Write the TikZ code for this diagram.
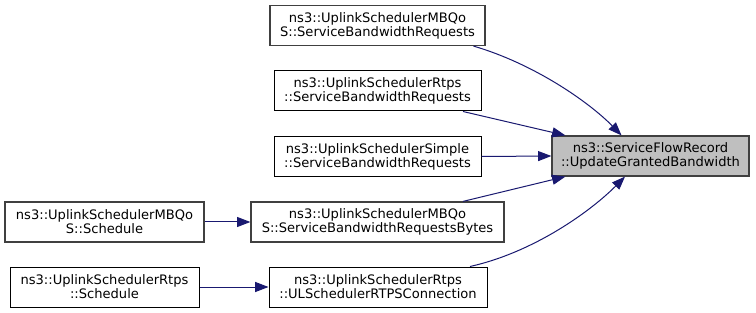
\documentclass[tikz,border=0pt]{standalone}
\usepackage{fontspec}
\setmainfont{DejaVu Sans}
\usetikzlibrary{arrows.meta,calc}
\definecolor{edgeblue}{HTML}{191970}
\definecolor{boxgrey}{HTML}{404040}
\definecolor{hilite}{HTML}{BFBFBF}
\tikzset{
  fn/.style={draw=black, fill=white, line width=0.75pt, inner sep=0pt, align=center,
    font=\fontsize{9.8}{10.6}\selectfont, minimum height=30pt},
  fngrey/.style={fn, draw=boxgrey, line width=0.9pt},
  focus/.style={fn, draw=boxgrey, line width=0.9pt, fill=hilite},
  call/.style={draw=edgeblue, line width=0.75pt, -{Triangle[length=10pt,width=7.5pt]}}
}
\begin{document}
\begin{tikzpicture}[x=0.75pt,y=-0.75pt]
\useasboundingbox (0,0) rectangle (756,313);
\fill[white] (0,0) rectangle (756,313);

\node[fngrey, minimum width=161.25pt] (sbrm) at (377.5,25.5) {ns3::UplinkSchedulerMBQo\\S::ServiceBandwidthRequests};
\node[fn, minimum width=155.25pt] (sbrr) at (377.5,91) {ns3::UplinkSchedulerRtps\\::ServiceBandwidthRequests};
\node[fn, minimum width=155.25pt] (sbrs) at (377.5,156.5) {ns3::UplinkSchedulerSimple\\::ServiceBandwidthRequests};
\node[focus, minimum width=147.75pt] (ugb) at (650.5,156) {ns3::ServiceFlowRecord\\::UpdateGrantedBandwidth};
\node[fngrey, minimum width=189.75pt] (sbrb) at (377.5,222) {ns3::UplinkSchedulerMBQo\\S::ServiceBandwidthRequestsBytes};
\node[fn, minimum width=163.5pt] (ulrt) at (378,287) {ns3::UplinkSchedulerRtps\\::ULSchedulerRTPSConnection};
\node[fngrey, minimum width=149.25pt] (schm) at (104.5,222) {ns3::UplinkSchedulerMBQo\\S::Schedule};
\node[fn, minimum width=141.75pt] (schr) at (104.5,287) {ns3::UplinkSchedulerRtps\\::Schedule};

\draw[call] ($(sbrm.south)+(96,0)$) .. controls (535,64) and (590,103) .. ($(ugb.north)+(-29,0)$);
\draw[call] ($(sbrr.south)+(85.5,0)$) -- ($(ugb.north west)+(14,0)$);
\draw[call] (sbrs.east) -- (ugb.west);
\draw[call] ($(sbrb.north)+(85.5,0)$) -- ($(ugb.south west)+(14,0)$);
\draw[call] ($(ulrt.north)+(92,0)$) .. controls (535,252) and (592,210) .. ($(ugb.south)+(-25.5,0)$);
\draw[call] (schm.east) -- (sbrb.west);
\draw[call] (schr.east) -- (ulrt.west);
\end{tikzpicture}
\end{document}
